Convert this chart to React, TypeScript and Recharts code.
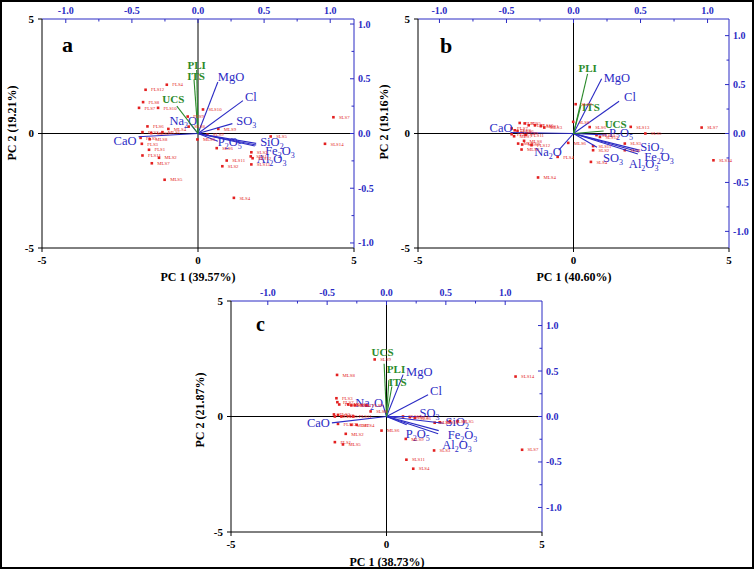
import React from 'react';
import { ScatterChart, Scatter, XAxis, YAxis, ReferenceLine, LabelList } from 'recharts';

const BLUE = '#2b2bc4';
const RED = '#e32020';
const GREEN = '#2b8a2b';
const FONT = '"Liberation Serif", "Times New Roman", serif';

type Pt = [string, number, number];
type Tip = [number, number, 'start' | 'middle' | 'end'];

const pcTicks = [-5, 0, 5];
const loadTicks = [-1, -0.75, -0.5, -0.25, 0, 0.25, 0.5, 0.75, 1];
const indicators = ['UCS', 'PLI', 'ITS'];

// ---- panel a: PC1 39.57 %, PC2 19.21 %
const scoresA: Pt[] = [
  ['FLS4', -1.0, 2.13], ['FLS12', -1.68, 1.91], ['FLS8', -1.76, 1.37], ['FLS7', -1.89, 1.12],
  ['FLS10', -1.28, 1.12], ['FLS9', -0.33, 0.74], ['FLS6', -1.62, 0.31], ['FLS2', -1.78, 0.06],
  ['FLS5', -1.84, -0.19], ['FLS3', -1.8, -0.45], ['FLS1', -1.57, -0.71], ['FLS11', -1.78, -0.96],
  ['MLS9', 0.65, 0.2], ['MLS4', -0.95, 0.2], ['MLS1', -1.14, 0.06], ['MLS3', -1.5, 0.02],
  ['MLS8', -1.55, -0.25], ['MLS6', -0.02, -0.26], ['MLS2', -1.25, -1.06], ['MLS7', -1.48, -1.3],
  ['MLS5', -1.07, -2.02],
  ['SLS10', 0.16, 1.05], ['SLS7', 4.34, 0.71], ['SLS5', 2.33, -0.13], ['SLS14', 4.07, -0.45],
  ['SLS6', 0.6, -0.64], ['SLS3', 1.71, -0.82], ['SLS1', 1.69, -1.0], ['SLS12', 1.75, -1.08],
  ['SLS11', 0.92, -1.18], ['SLS2', 0.78, -1.43], ['SLS13', 1.71, -1.35], ['SLS4', 1.15, -2.81],
  ['SLS8', -0.3, 0.3], ['SLS9', 0.3, -0.05],
];
const loadingsA: Pt[] = [
  ['CaO', -0.45, -0.03], ['MgO', 0.15, 0.47], ['SiO2', 0.44, -0.09], ['Al2O3', 0.43, -0.115],
  ['Fe2O3', 0.44, -0.105], ['SO3', 0.26, 0.09], ['Cl', 0.34, 0.3], ['Na2O', -0.06, 0.09],
  ['P2O5', 0.15, -0.07], ['UCS', -0.16, 0.25], ['PLI', -0.01, 0.58], ['ITS', -0.03, 0.49],
];
const tipsA: Record<string, Tip> = {
  PLI: [0, -1, 'middle'], ITS: [2, 0, 'middle'], UCS: [-3.5, -3, 'middle'], MgO: [0, -1, 'start'],
  Cl: [2, 0, 'start'], SO3: [4, 1, 'start'], Na2O: [7, 1, 'end'], CaO: [-2, 8, 'end'],
  P2O5: [0, 5, 'start'], SiO2: [4, 3, 'start'], Fe2O3: [9, 10, 'start'], Al2O3: [2, 17, 'start'],
};

// ---- panel b: PC1 40.60 %, PC2 19.16 %
const scoresB: Pt[] = [
  ['FLS3', -1.73, 0.46], ['FLS5', -1.57, 0.44], ['FLS2', -1.44, 0.36], ['FLS10', -1.24, 0.36],
  ['FLS7', -1.99, 0.22], ['FLS8', -1.89, 0.14], ['FLS6', -1.8, 0.11], ['FLS9', -1.67, 0.03],
  ['FLS11', -1.54, -0.07], ['FLS1', -1.99, -0.03], ['FLS12', -1.35, -0.51], ['FLS4', -0.51, -1.02],
  ['MLS1', -1.05, 0.32], ['MLS3', -0.94, 0.26], ['MLS7', -1.91, -0.12], ['MLS8', -1.59, -0.32],
  ['MLS5', -1.78, -0.44], ['MLS9', -1.65, -0.48], ['MLS2', -1.67, -0.7], ['MLS6', -0.17, -0.41],
  ['MLS4', -1.14, -1.92],
  ['SLS8', -0.01, 0.51], ['SLS9', 0.07, 1.28], ['SLS6', 0.52, 0.28], ['SLS13', 1.84, 0.29],
  ['SLS7', 4.12, 0.26], ['SLS5', 2.31, 0.0], ['SLS10', 0.74, -0.07], ['SLS12', 0.85, -0.15],
  ['SLS3', 1.65, -0.44], ['SLS1', 1.65, -0.73], ['SLS11', 0.63, -0.55], ['SLS2', 0.63, -0.73],
  ['SLS4', 0.56, -1.24], ['SLS14', 4.5, -1.17],
];
const loadingsB: Pt[] = [
  ['CaO', -0.47, 0.01], ['MgO', 0.21, 0.56], ['SiO2', 0.49, -0.17], ['Al2O3', 0.48, -0.21],
  ['Fe2O3', 0.49, -0.19], ['SO3', 0.175, -0.14], ['Cl', 0.34, 0.33], ['Na2O', -0.11, -0.17],
  ['P2O5', 0.25, -0.015], ['UCS', 0.225, 0.025], ['PLI', 0.105, 0.61], ['ITS', 0.056, 0.29],
];
const tipsB: Record<string, Tip> = {
  PLI: [0, -2, 'middle'], MgO: [2, 3, 'start'], ITS: [1, 6, 'start'], Cl: [5, 0, 'start'],
  UCS: [1, -3, 'start'], P2O5: [2, 2, 'start'], SiO2: [1, 1, 'start'], Fe2O3: [5, 9, 'start'],
  Al2O3: [-9, 14, 'start'], SO3: [6, 15, 'start'], Na2O: [3, 6, 'end'], CaO: [2, -1, 'end'],
};

// ---- panel c: PC1 38.73 %, PC2 21.87 %
const scoresC: Pt[] = [
  ['FLS3', -1.61, 0.79], ['FLS7', -1.58, 0.62], ['FLS10', -1.52, 0.52], ['FLS4', -1.02, 0.48],
  ['FLS9', -0.64, 0.48], ['FLS2', -1.69, 0.09], ['FLS6', -1.66, 0.0], ['FLS8', -1.56, 0.07],
  ['FLS5', -1.45, 0.0], ['FLS11', -1.07, 0.0], ['FLS12', -1.56, -0.32], ['FLS1', -1.66, -1.11],
  ['MLS8', -1.59, 1.8], ['MLS1', -1.23, 0.52], ['MLS3', -1.13, 0.48], ['MLS7', -1.13, -0.36],
  ['MLS4', -0.96, -0.36], ['MLS2', -1.31, -0.75], ['MLS5', -1.4, -1.21], ['MLS6', -0.16, -0.61],
  ['MLS9', 0.62, -0.97],
  ['SLS9', -0.38, 2.47], ['SLS14', 4.15, 1.73], ['SLS8', -0.51, 0.22], ['SLS10', 0.53, 0.0],
  ['SLS12', 0.75, -0.03], ['SLS6', 0.91, -0.06], ['SLS5', 2.28, -0.2], ['SLS1', 1.55, -0.27],
  ['SLS13', 1.71, -0.25], ['SLS2', 2.04, -0.2], ['SLS3', 1.53, -1.47], ['SLS11', 0.64, -1.87],
  ['SLS4', 0.86, -2.26], ['SLS7', 4.36, -1.44],
];
const loadingsC: Pt[] = [
  ['CaO', -0.46, -0.07], ['MgO', 0.14, 0.46], ['SiO2', 0.48, -0.075], ['Al2O3', 0.435, -0.19],
  ['Fe2O3', 0.44, -0.155], ['SO3', 0.27, 0.0], ['Cl', 0.35, 0.24], ['Na2O', -0.03, 0.13],
  ['P2O5', 0.17, -0.09], ['UCS', -0.02, 0.58], ['PLI', 0.02, 0.4], ['ITS', 0.045, 0.33],
];
const tipsC: Record<string, Tip> = {
  UCS: [-1.5, -8, 'middle'], PLI: [-2, -7, 'start'], ITS: [-3, 0, 'start'], MgO: [3, 1, 'start'],
  Cl: [2, 0, 'start'], Na2O: [0, 2, 'end'], SO3: [1, 0, 'start'], CaO: [-2, 4, 'end'],
  SiO2: [2, 3, 'start'], Fe2O3: [9, 8, 'start'], Al2O3: [4, 15, 'start'], P2O5: [-1, 13, 'start'],
};

// chemical formula with subscripted digits
function chem(name: string) {
  const parts: React.ReactNode[] = [];
  let sub = false;
  name.split('').forEach((ch, i) => {
    const isDigit = /\d/.test(ch);
    if (isDigit) {
      parts.push(<tspan key={i} dy={3} fontSize={8}>{ch}</tspan>);
      sub = true;
    } else {
      parts.push(<tspan key={i} dy={sub ? -3 : 0}>{ch}</tspan>);
      sub = false;
    }
  });
  return parts;
}

const TopTick = (props: any) => {
  const { x, y, payload } = props;
  const v = payload.value as number;
  const major = Math.abs(v * 2 - Math.round(v * 2)) < 1e-6;
  return (
    <g>
      <line x1={x} x2={x} y1={y} y2={y + (major ? 4 : 2.5)} stroke={BLUE} strokeWidth={1} />
      {major && (
        <text x={x} y={y - 5} textAnchor="middle" fill={BLUE} fontSize={10} fontWeight="bold">
          {v.toFixed(1)}
        </text>
      )}
    </g>
  );
};

const RightTick = (props: any) => {
  const { x, y, payload } = props;
  const v = payload.value as number;
  const major = Math.abs(v * 2 - Math.round(v * 2)) < 1e-6;
  return (
    <g>
      <line x1={x} x2={x - (major ? 4 : 2.5)} y1={y} y2={y} stroke={BLUE} strokeWidth={1} />
      {major && (
        <text x={x + 4} y={y + 3.5} textAnchor="start" fill={BLUE} fontSize={10} fontWeight="bold">
          {v.toFixed(1)}
        </text>
      )}
    </g>
  );
};

const ScoreDot = (p: any) => (
  <rect x={p.cx - 1.3} y={p.cy - 1.3} width={2.6} height={2.6} fill={RED} />
);

type BiplotProps = {
  scores: Pt[];
  loadings: Pt[];
  tips: Record<string, Tip>;
  left: number;
  top: number;
  width: number;
  height: number;
  pad: { l: number; r: number; t: number; b: number };
  xLoad: number;
  yLoad: number;
};

function Biplot({ scores, loadings, tips, left, top, width, height, pad, xLoad, yLoad }: BiplotProps) {
  const scoreData = scores.map(([name, x, y]) => ({ name, x, y }));
  return (
    <div style={{ position: 'absolute', left, top, fontFamily: FONT }}>
      <ScatterChart width={width} height={height} margin={{ top: 0, right: 0, bottom: 0, left: 0 }}>
        <XAxis
          xAxisId="pc" type="number" dataKey="x" orientation="bottom" domain={[-5, 5]} ticks={pcTicks}
          height={pad.b} stroke="#000" tickSize={4} tickMargin={4} allowDataOverflow interval={0}
          tick={{ fill: '#000', fontSize: 11, fontWeight: 'bold' }}
        />
        <XAxis
          xAxisId="ld" type="number" dataKey="x" orientation="top" domain={[-xLoad, xLoad]} ticks={loadTicks}
          height={pad.t} stroke={BLUE} tickLine={false} tickSize={0} tickMargin={0} allowDataOverflow
          interval={0} tick={TopTick}
        />
        <YAxis
          yAxisId="pc" type="number" dataKey="y" orientation="left" domain={[-5, 5]} ticks={pcTicks}
          width={pad.l} stroke="#000" tickSize={4} tickMargin={4} allowDataOverflow interval={0}
          tick={{ fill: '#000', fontSize: 11, fontWeight: 'bold' }}
        />
        <YAxis
          yAxisId="ld" type="number" dataKey="y" orientation="right" domain={[-yLoad, yLoad]} ticks={loadTicks}
          width={pad.r} stroke={BLUE} tickLine={false} tickSize={0} tickMargin={0} allowDataOverflow
          interval={0} tick={RightTick}
        />
        <ReferenceLine xAxisId="pc" yAxisId="pc" x={0} stroke="#000" strokeWidth={1} />
        <ReferenceLine xAxisId="pc" yAxisId="pc" y={0} stroke="#000" strokeWidth={1} />
        <Scatter xAxisId="pc" yAxisId="pc" data={scoreData} shape={ScoreDot} isAnimationActive={false}>
          <LabelList dataKey="name" position="right" offset={1} fontSize={4.8} fill={RED} />
        </Scatter>
        {loadings.map(([name, x, y]) => {
          const color = indicators.includes(name) ? GREEN : BLUE;
          const isInd = indicators.includes(name);
          return (
            <Scatter
              key={name}
              xAxisId="ld"
              yAxisId="ld"
              data={[{ x: 0, y: 0, name: '' }, { x, y, name }]}
              line={{ stroke: color, strokeWidth: 1.1 }}
              isAnimationActive={false}
              shape={(p: any) => {
                const n = p.payload?.name;
                if (!n) return <g />;
                const [dx, dy, anchor] = tips[n] ?? [3, 3, 'start'];
                return (
                  <text
                    x={p.cx + dx}
                    y={p.cy + dy}
                    textAnchor={anchor}
                    fill={color}
                    fontSize={isInd ? 11 : 12.5}
                    fontWeight={isInd ? 'bold' : 'normal'}
                  >
                    {chem(n)}
                  </text>
                );
              }}
            />
          );
        })}
      </ScatterChart>
    </div>
  );
}

export default function App() {
  const title = { fontSize: 12, fontWeight: 'bold' as const, fill: '#000', textAnchor: 'middle' as const };
  return (
    <div
      style={{
        position: 'absolute', left: 0, top: 0, width: 754, height: 569, background: '#fff',
        fontFamily: FONT, overflow: 'hidden',
      }}
    >
      <Biplot
        scores={scoresA} loadings={loadingsA} tips={tipsA}
        left={0} top={0} width={377} height={290} pad={{ l: 42, r: 23, t: 19, b: 42 }}
        xLoad={1.18} yLoad={1.046}
      />
      <Biplot
        scores={scoresB} loadings={loadingsB} tips={tipsB}
        left={377} top={0} width={377} height={290} pad={{ l: 41, r: 25, t: 19, b: 42 }}
        xLoad={1.16} yLoad={1.17}
      />
      <Biplot
        scores={scoresC} loadings={loadingsC} tips={tipsC}
        left={190} top={280} width={380} height={289} pad={{ l: 41, r: 28, t: 21, b: 37 }}
        xLoad={1.31} yLoad={1.27}
      />
      <svg
        width={754} height={569}
        style={{ position: 'absolute', left: 0, top: 0, pointerEvents: 'none', fontFamily: FONT }}
      >
        <text x={198} y={281} {...title}>PC 1 (39.57%)</text>
        <text x={16} y={123} {...title} transform="rotate(-90 16 123)">PC 2 (19.21%)</text>
        <text x={62} y={52} fontSize={22} fontWeight="bold">a</text>

        <text x={574} y={281} {...title}>PC 1 (40.60%)</text>
        <text x={388} y={122} {...title} transform="rotate(-90 388 122)">PC 2 (19.16%)</text>
        <text x={440} y={53} fontSize={22} fontWeight="bold">b</text>

        <text x={387} y={566} {...title}>PC 1 (38.73%)</text>
        <text x={204} y={410} {...title} transform="rotate(-90 204 410)">PC 2 (21.87%)</text>
        <text x={256} y={331} fontSize={20} fontWeight="bold">c</text>
      </svg>
      <div
        style={{
          position: 'absolute', left: 0, top: 0, width: 754, height: 569,
          border: '2px solid #000', boxSizing: 'border-box', pointerEvents: 'none',
        }}
      />
    </div>
  );
}
